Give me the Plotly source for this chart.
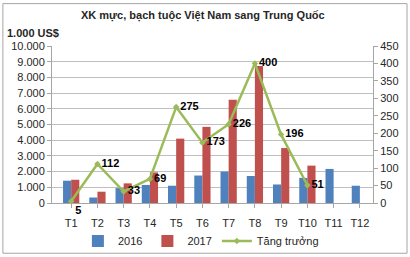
import plotly.graph_objects as go

months = ["T1", "T2", "T3", "T4", "T5", "T6", "T7", "T8", "T9", "T10", "T11", "T12"]
v2016 = [1420, 350, 950, 1150, 1100, 1750, 2000, 1720, 1180, 1600, 2170, 1100]
v2017 = [1480, 720, 1250, 1950, 4100, 4850, 6580, 8720, 3500, 2380, None, None]
growth_months = ["T1", "T2", "T3", "T4", "T5", "T6", "T7", "T8", "T9", "T10"]
growth = [5, 112, 33, 69, 275, 173, 226, 400, 196, 51]

left_ticks = [0, 1000, 2000, 3000, 4000, 5000, 6000, 7000, 8000, 9000, 10000]
left_labels = ["0", "1.000", "2.000", "3.000", "4.000", "5.000", "6.000", "7.000", "8.000", "9.000", "10.000"]
right_ticks = [0, 50, 100, 150, 200, 250, 300, 350, 400, 450]

BLUE = "#4F81BD"
RED = "#C0504D"
GREEN = "#9BBB59"
FONT = "Liberation Sans"

fig = go.Figure()
fig.add_trace(go.Bar(x=months, y=v2016, name="2016", marker_color=BLUE))
fig.add_trace(go.Bar(x=months, y=v2017, name="2017", marker_color=RED))
fig.add_trace(go.Scatter(
    x=growth_months, y=growth, name="Tăng trưởng", yaxis="y2",
    mode="lines+markers+text",
    line=dict(color=GREEN, width=2.5),
    marker=dict(color=GREEN, size=5, symbol="diamond"),
    text=[str(g) for g in growth],
    textposition=["bottom right"] + ["middle right"] * 9,
    textfont=dict(family=FONT, size=11, color="black", weight="bold"),
    cliponaxis=False,
))

fig.update_layout(
    template="none",
    width=410, height=257,
    margin=dict(l=52, r=37, t=46, b=54, autoexpand=False),
    paper_bgcolor="white", plot_bgcolor="white",
    font=dict(family=FONT, size=11, color="#262626"),
    barmode="group", bargap=0.38, bargroupgap=0.0,
    showlegend=True,
    legend=dict(orientation="h", xref="container", yref="container",
                x=0.49, xanchor="center", y=0.062, yanchor="middle",
                font=dict(size=11), traceorder="normal", itemwidth=30, tracegroupgap=0,
                bgcolor="rgba(0,0,0,0)"),
    xaxis=dict(showline=True, linecolor="#A6A6A6", ticks="outside", tickcolor="#A6A6A6",
               ticklen=4, tickfont=dict(size=11), ticklabelstandoff=6, automargin=False,
               showgrid=False, zeroline=False),
    yaxis=dict(range=[0, 10000], tickvals=left_ticks, ticktext=left_labels,
               showgrid=True, gridcolor="#BFBFBF", gridwidth=1, automargin=False,
               showline=True, linecolor="#A6A6A6", ticks="outside", tickcolor="#A6A6A6",
               ticklen=4, zeroline=False, tickfont=dict(size=11)),
    yaxis2=dict(range=[0, 450], tickvals=right_ticks, overlaying="y", side="right",
                showgrid=False, showline=True, linecolor="#A6A6A6", ticks="outside",
                tickcolor="#A6A6A6", ticklen=4, zeroline=False, tickfont=dict(size=11),
                automargin=False),
    annotations=[
        dict(text="<b>XK mực, bạch tuộc Việt Nam sang Trung Quốc</b>", xref="paper", yref="paper",
             x=0.47, y=1.14, xanchor="center", yanchor="bottom", showarrow=False,
             font=dict(size=11, color="#262626")),
        dict(text="<b>1.000 US$</b>", xref="paper", yref="paper",
             x=-0.145, y=1.03, xanchor="left", yanchor="bottom", showarrow=False,
             font=dict(size=11, color="#262626")),
    ],
    shapes=[dict(type="rect", xref="paper", yref="paper", x0=-0.153, x1=1.106, y0=-0.32, y1=1.27,
                 line=dict(color="#A6A6A6", width=1), layer="below")],
)

fig.write_html("out.html")
